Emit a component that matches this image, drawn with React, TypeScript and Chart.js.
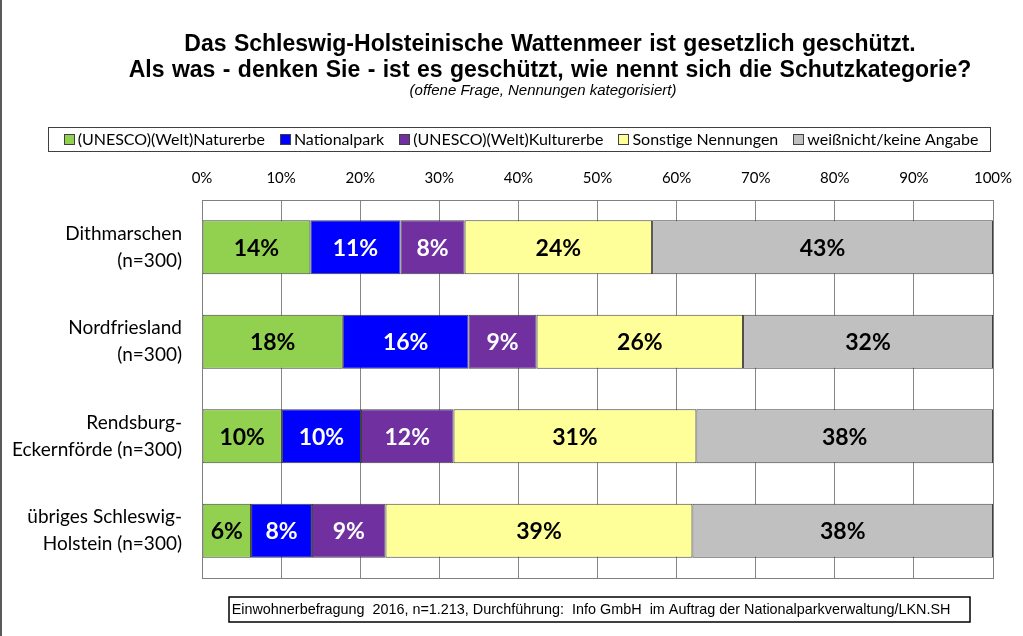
import React, { useEffect, useRef } from "react";
import { Chart, registerables } from "chart.js";

Chart.register(...registerables);

const categories: string[][] = [
  ["Dithmarschen", "(n=300)"],
  ["Nordfriesland", "(n=300)"],
  ["Rendsburg-", "Eckernförde (n=300)"],
  ["übriges Schleswig-", "Holstein (n=300)"],
];
const seriesNames = [
  "(UNESCO)(Welt)Naturerbe",
  "Nationalpark",
  "(UNESCO)(Welt)Kulturerbe",
  "Sonstige Nennungen",
  "weißnicht/keine Angabe",
];
const naturerbe = [13.7, 17.8, 10.1, 6.2];
const nationalpark = [11.4, 15.9, 10.0, 7.7];
const kulturerbe = [8.1, 8.6, 11.7, 9.3];
const sonstige = [23.7, 26.1, 30.7, 38.8];
const weissNicht = [43.1, 31.6, 37.5, 38.0];

const titleLines = [
  "Das Schleswig-Holsteinische Wattenmeer ist gesetzlich geschützt.",
  "Als was - denken Sie - ist es geschützt, wie nennt sich die Schutzkategorie?",
];
const subtitle = "(offene Frage, Nennungen kategorisiert)";
const footnote =
  "Einwohnerbefragung  2016, n=1.213, Durchführung:  Info GmbH  im Auftrag der Nationalparkverwaltung/LKN.SH";

const colors = ["#92D050", "#0000FF", "#7030A0", "#FFFF99", "#C0C0C0"];
const labelColors = ["#000000", "#FFFFFF", "#FFFFFF", "#000000", "#000000"];
const seriesValues = [naturerbe, nationalpark, kulturerbe, sonstige, weissNicht];

const BODY_FONT = "Lato, 'Open Sans', sans-serif";
const ARIAL = "'Liberation Sans', Arial, sans-serif";

const decorPlugin = {
  id: "decor",
  beforeDraw(chart: any) {
    const { ctx, width, height } = chart;
    ctx.save();
    ctx.fillStyle = "#FFFFFF";
    ctx.fillRect(0, 0, width, height);
    ctx.restore();
  },
  afterDatasetsDraw(chart: any) {
    const { ctx } = chart;
    ctx.save();
    ctx.font = `bold 23px ${BODY_FONT}`;
    ctx.textAlign = "center";
    ctx.textBaseline = "middle";
    chart.data.datasets.forEach((ds: any, di: number) => {
      const meta = chart.getDatasetMeta(di);
      meta.data.forEach((el: any, i: number) => {
        const v = ds.data[i];
        const cx = (el.x + el.base) / 2;
        ctx.fillStyle = labelColors[di];
        ctx.fillText(`${Math.round(v)}%`, cx, el.y + 1);
      });
    });
    ctx.restore();
  },
  afterDraw(chart: any) {
    const { ctx, chartArea: a, height } = chart;
    ctx.save();
    // plot frame
    ctx.strokeStyle = "#7F7F7F";
    ctx.lineWidth = 1;
    ctx.strokeRect(Math.round(a.left) + 0.5, Math.round(a.top) + 0.5, Math.round(a.right - a.left), Math.round(a.bottom - a.top));

    // left page edge
    ctx.strokeStyle = "#595959";
    ctx.lineWidth = 2;
    ctx.beginPath();
    ctx.moveTo(1, 0);
    ctx.lineTo(1, height);
    ctx.stroke();

    // title
    const tcx = 550;
    ctx.fillStyle = "#000000";
    ctx.textAlign = "center";
    ctx.textBaseline = "alphabetic";
    ctx.font = `bold 23px ${ARIAL}`;
    try { (ctx as any).wordSpacing = "1px"; } catch (e) {}
    ctx.fillText(titleLines[0], tcx, 51);
    ctx.fillText(titleLines[1], tcx, 77);
    try { (ctx as any).wordSpacing = "0px"; } catch (e) {}
    ctx.font = `italic 15px ${ARIAL}`;
    ctx.fillText(subtitle, 543, 95);

    // legend
    const boxL = 48, boxR = 990, boxT = 127, boxB = 151;
    ctx.strokeStyle = "#404040";
    ctx.lineWidth = 1;
    ctx.strokeRect(boxL + 0.5, boxT + 0.5, boxR - boxL, boxB - boxT);
    ctx.font = `16px ${BODY_FONT}`;
    const sq = 11, sqGap = 3, itemGap = 15;
    const widths = seriesNames.map((n) => sq + sqGap + ctx.measureText(n).width);
    const total = widths.reduce((s, w) => s + w, 0) + itemGap * (seriesNames.length - 1);
    let x = (boxL + boxR) / 2 - total / 2 + 2;
    const ly = (boxT + boxB) / 2 + 0.5;
    ctx.textAlign = "left";
    ctx.textBaseline = "middle";
    seriesNames.forEach((n, i) => {
      ctx.fillStyle = colors[i];
      ctx.fillRect(Math.round(x), Math.round(ly - sq / 2), sq, sq);
      ctx.strokeStyle = "#404040";
      ctx.strokeRect(Math.round(x) + 0.5, Math.round(ly - sq / 2) + 0.5, sq - 1, sq - 1);
      ctx.fillStyle = "#000000";
      ctx.fillText(n, x + sq + sqGap, ly);
      x += widths[i] + itemGap;
    });

    // footnote
    const fL = 229, fR = 970, fT = 597, fB = 622;
    ctx.strokeStyle = "#000000";
    ctx.lineWidth = 1.5;
    ctx.strokeRect(fL, fT, fR - fL, fB - fT);
    ctx.font = `14.4px ${ARIAL}`;
    ctx.fillStyle = "#000000";
    ctx.textAlign = "center";
    ctx.textBaseline = "middle";
    ctx.fillText(footnote, 591, (fT + fB) / 2 + 1);
    ctx.restore();
  },
};

export default function App() {
  const ref = useRef<HTMLCanvasElement | null>(null);
  useEffect(() => {
    if (!ref.current) return;
    const chart = new Chart(ref.current, {
      type: "bar",
      data: {
        labels: categories,
        datasets: seriesNames.map((name, i) => ({
          label: name,
          data: seriesValues[i],
          backgroundColor: colors[i],
          borderColor: "#404040",
          borderWidth: 1,
          borderSkipped: false,
          barPercentage: 0.57,
          categoryPercentage: 1,
        })),
      },
      options: {
        indexAxis: "y",
        animation: false,
        responsive: false,
        layout: { padding: { left: 0, top: 0, right: 30, bottom: 58 } },
        plugins: {
          legend: { display: false },
          title: { display: false },
          tooltip: { enabled: false },
        },
        scales: {
          x: {
            position: "top",
            stacked: true,
            min: 0,
            max: 100,
            ticks: {
              stepSize: 10,
              callback: (v: any) => `${v}%`,
              font: { family: BODY_FONT, size: 15 },
              color: "#000000",
              padding: 13,
              maxRotation: 0,
            },
            grid: { color: "#868686", lineWidth: 1, drawTicks: false },
            border: { display: false },
            afterFit: (s: any) => {
              s.height = 200;
              s.paddingLeft = 0;
              s.paddingRight = 0;
            },
          },
          y: {
            stacked: true,
            ticks: {
              font: { family: BODY_FONT, size: 19, lineHeight: 1.42 },
              color: "#000000",
              padding: 12,
            },
            grid: { display: false },
            border: { display: false },
            afterFit: (s: any) => {
              s.width = 202;
              s.paddingTop = 0;
              s.paddingBottom = 0;
            },
          },
        },
      },
      plugins: [decorPlugin],
    });
    return () => chart.destroy();
  }, []);
  return (
    <div style={{ position: "fixed", left: 0, top: 0, width: 1023, height: 636, background: "#fff" }}>
      <canvas ref={ref} width={1023} height={636} style={{ display: "block" }} />
    </div>
  );
}
